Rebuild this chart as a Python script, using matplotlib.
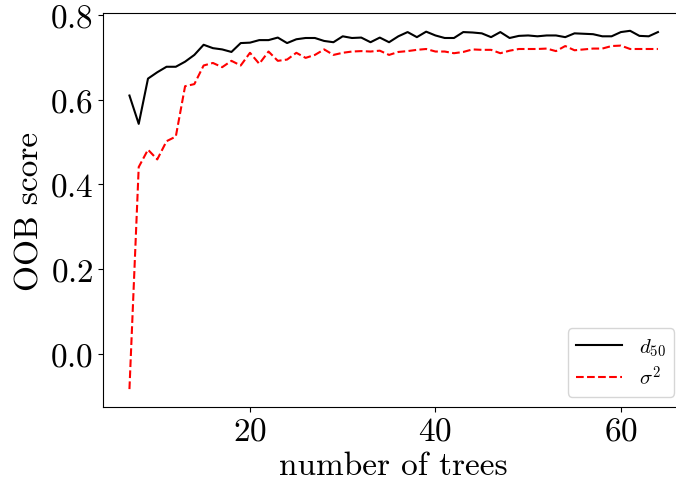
import numpy as np
import matplotlib
matplotlib.use('Agg')
import matplotlib.pyplot as plt

plt.rcParams['font.family'] = 'serif'
plt.rcParams['font.serif'] = ['cmr10']
plt.rcParams['mathtext.fontset'] = 'cm'
plt.rcParams['axes.formatter.use_mathtext'] = True

# number of trees
n_trees = np.arange(7, 65)

# OOB score for d50
d50 = [0.610, 0.543, 0.650, 0.665, 0.678, 0.678, 0.690, 0.706, 0.730, 0.722,
       0.719, 0.713, 0.734, 0.735, 0.741, 0.741, 0.747, 0.734, 0.743, 0.746,
       0.746, 0.739, 0.736, 0.750, 0.746, 0.747, 0.736, 0.747, 0.736, 0.750,
       0.760, 0.748, 0.761, 0.752, 0.746, 0.746, 0.760, 0.759, 0.757, 0.748,
       0.760, 0.746, 0.751, 0.752, 0.750, 0.752, 0.752, 0.748, 0.757, 0.756,
       0.755, 0.750, 0.750, 0.760, 0.763, 0.751, 0.750, 0.760]

# OOB score for sigma^2
sigma2 = [-0.084, 0.441, 0.482, 0.459, 0.502, 0.513, 0.632, 0.637, 0.681, 0.687,
          0.677, 0.692, 0.681, 0.711, 0.685, 0.714, 0.692, 0.695, 0.711, 0.699,
          0.706, 0.719, 0.706, 0.711, 0.714, 0.715, 0.714, 0.716, 0.706, 0.713,
          0.715, 0.718, 0.720, 0.714, 0.714, 0.710, 0.713, 0.719, 0.718, 0.718,
          0.710, 0.716, 0.720, 0.720, 0.720, 0.721, 0.715, 0.727, 0.717, 0.719,
          0.721, 0.721, 0.727, 0.728, 0.720, 0.720, 0.720, 0.720]

fig = plt.figure(figsize=(6.76, 4.89), dpi=100)
ax = fig.add_axes([0.1524, 0.1656, 0.86, 0.806])
ax.plot(n_trees, d50, 'k-', lw=1.5, label=r'$d_{50}$')
ax.plot(n_trees, sigma2, 'r--', lw=1.5, label=r'$\sigma^2$')
ax.set_xlabel('number of trees', fontsize=24)
ax.set_ylabel('OOB score', fontsize=24)
ax.set_yticks([0.0, 0.2, 0.4, 0.6, 0.8])
ax.set_xticks([20, 40, 60])
ax.tick_params(labelsize=24)
ax.legend(loc='lower right', fontsize=15, handlelength=2.2, labelspacing=0.3)
fig.savefig('out.png', dpi=100)
